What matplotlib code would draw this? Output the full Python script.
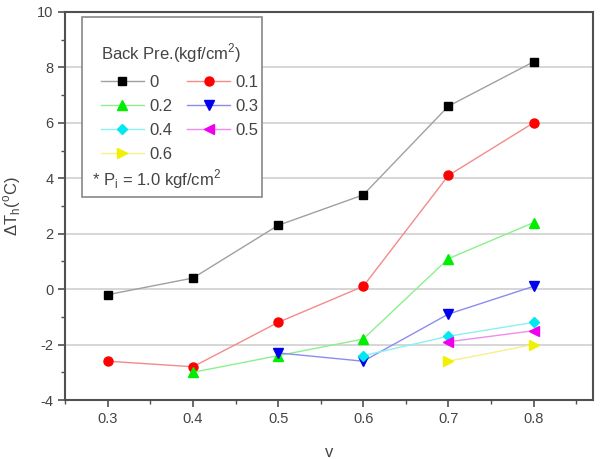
import matplotlib
matplotlib.use("Agg")
import matplotlib.pyplot as plt
from matplotlib.patches import Rectangle
from matplotlib.ticker import MultipleLocator

plt.rcParams['font.family'] = ['Liberation Sans', 'DejaVu Sans']
plt.rcParams['mathtext.fontset'] = 'custom'
plt.rcParams['mathtext.rm'] = 'Liberation Sans'
plt.rcParams['axes.unicode_minus'] = False

# data
v = [0.3, 0.4, 0.5, 0.6, 0.7, 0.8]
bp_00 = [-0.2, 0.4, 2.3, 3.4, 6.6, 8.2]
bp_01 = [-2.6, -2.8, -1.2, 0.1, 4.1, 6.0]
v_02 = [0.4, 0.5, 0.6, 0.7, 0.8]
bp_02 = [-3.0, -2.4, -1.8, 1.1, 2.4]
v_03 = [0.5, 0.6, 0.7, 0.8]
bp_03 = [-2.3, -2.6, -0.9, 0.1]
v_04 = [0.6, 0.7, 0.8]
bp_04 = [-2.4, -1.7, -1.2]
v_05 = [0.7, 0.8]
bp_05 = [-1.9, -1.5]
v_06 = [0.7, 0.8]
bp_06 = [-2.6, -2.0]
labels = ["0", "0.1", "0.2", "0.3", "0.4", "0.5", "0.6"]

series = [(v, bp_00), (v, bp_01), (v_02, bp_02), (v_03, bp_03),
          (v_04, bp_04), (v_05, bp_05), (v_06, bp_06)]
line_cols = ["#a0a0a0", "#f48a8a", "#8cf08c", "#8c8cf0", "#8cf0f0", "#f08cf0", "#f4f08c"]
mark_cols = ["black", "red", "#00ee00", "#0000ee", "#00e8f0", "#ee00ee", "#f0f000"]
markers = ["s", "o", "^", "v", "D", "<", ">"]
msizes = [5.5, 6.5, 6.5, 6.5, 5, 6.5, 6.5]

fig = plt.figure(figsize=(6.04, 4.59), dpi=100)
ax = fig.add_axes([0.108, 0.1285, 0.874, 0.8455])

handles = []
for (x, y), lc, mc, m, ms, lab in zip(series, line_cols, mark_cols, markers, msizes, labels):
    h, = ax.plot(x, y, color=lc, lw=1.0, marker=m, ms=ms, mfc=mc, mec=mc, label=lab)
    handles.append(h)

ax.set_xlim(0.25, 0.87)
ax.set_ylim(-4, 10)
ax.xaxis.set_minor_locator(MultipleLocator(0.05))
ax.yaxis.set_major_locator(MultipleLocator(2))
ax.yaxis.set_minor_locator(MultipleLocator(1))
ax.set_xticks([0.3, 0.4, 0.5, 0.6, 0.7, 0.8])
ax.set_xticklabels(["0.3", "0.4", "0.5", "0.6", "0.7", "0.8"])
for yy in [-2, 0, 2, 4, 6, 8]:
    ax.axhline(yy, color="#d0d0d0", lw=1.2, zorder=0)

for s in ax.spines.values():
    s.set_color("#505050")
    s.set_linewidth(1.5)
ax.tick_params(axis="both", which="both", direction="out", colors="#505050",
               labelcolor="#444444", labelsize=10.5, top=False, right=False)
ax.tick_params(which="major", length=5, width=1.2)
ax.tick_params(which="minor", length=3, width=1.0)

ax.set_xlabel("v", fontsize=12, color="#444444", labelpad=14)
ax.set_ylabel(r"$\Delta$T$_\mathregular{h}$($^\mathregular{o}$C)", fontsize=12, color="#444444", labelpad=10)

order = [0, 2, 4, 6, 1, 3, 5]
leg = ax.legend([handles[i] for i in order], [labels[i] for i in order], ncol=2,
                title=r"Back Pre.(kgf/cm$^\mathregular{2}$)", frameon=False,
                loc="upper left", bbox_to_anchor=(0.045, 0.953), fontsize=12,
                title_fontsize=12, handlelength=2.6, handletextpad=0.3,
                columnspacing=0.9, labelspacing=0.55, borderpad=0.2,
                alignment="left")
for t in leg.get_texts():
    t.set_color("#444444")
leg.get_title().set_color("#444444")

ax.add_patch(Rectangle((0.032, 0.523), 0.341, 0.464, transform=ax.transAxes,
                       fill=True, facecolor="white", edgecolor="#888888", lw=1.2, zorder=4))
leg.set_zorder(5)
ax.text(0.05, 0.57, r"* P$_\mathregular{i}$ = 1.0 kgf/cm$^\mathregular{2}$", transform=ax.transAxes,
        fontsize=12, color="#444444", va="center", ha="left", zorder=6)

fig.savefig("out.png", dpi=100)
